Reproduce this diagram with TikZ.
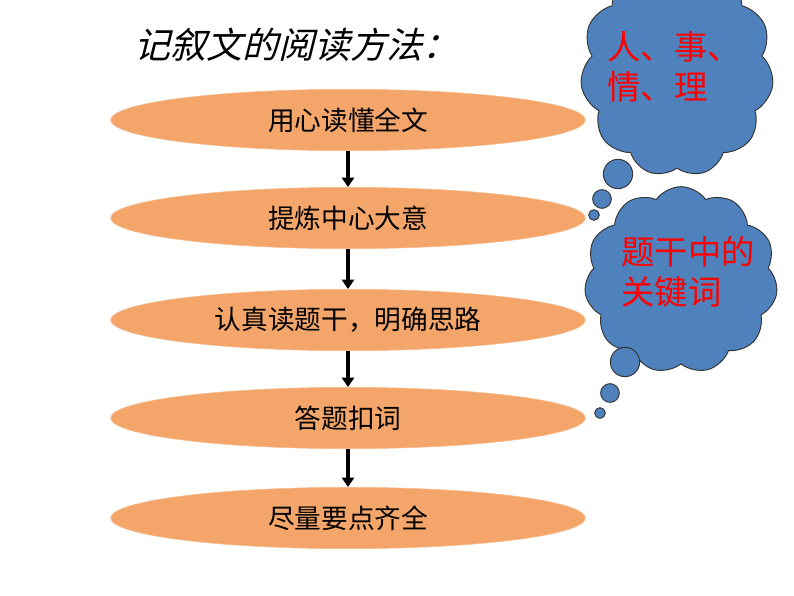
\documentclass[tikz,border=0pt]{standalone}
\usepackage{fontspec}
\newfontfamily\cjk{Noto Sans CJK SC}
\newfontfamily\cjkit[FakeSlant=0.25]{Noto Sans CJK SC}
\usetikzlibrary{shapes.geometric,shapes.symbols,arrows.meta}
\definecolor{orng}{HTML}{F4A66A}
\definecolor{cblue}{HTML}{4F81BD}
\tikzset{
  stepbox/.style={ellipse,fill=orng,draw=orng!80!white,minimum width=356pt,minimum height=46pt,font=\cjk\fontsize{20}{24}\selectfont,inner sep=0pt},
  flow/.style={-{Triangle[length=7pt,width=9pt]},line width=2.5pt,black},
  thought/.style={cloud,cloud puffs=11,cloud puff arc=110,aspect=1,fill=cblue,draw=black!80,line width=0.7pt},
  bub/.style={circle,fill=cblue,draw=black!80,line width=0.7pt,inner sep=0pt},
  ctext/.style={font=\cjk\fontsize{25}{30}\selectfont,text=red,align=left}
}
\begin{document}
\begin{tikzpicture}[x=0.75pt,y=-0.75pt]
\useasboundingbox (0,0) rectangle (794,596);
\clip (0,0) rectangle (794,596);
\node[font=\cjkit\fontsize{27}{32}\selectfont,anchor=west] (title) at (130,45) {记叙文的阅读方法：};
\node[stepbox] (s1) at (348,120) {用心读懂全文};
\node[stepbox] (s2) at (348,218) {提炼中心大意};
\node[stepbox] (s3) at (348,320) {认真读题干，明确思路};
\node[stepbox] (s4) at (348,418) {答题扣词};
\node[stepbox] (s5) at (348,518) {尽量要点齐全};
\draw[flow] (s1) -- (s2);
\draw[flow] (s2) -- (s3);
\draw[flow] (s3) -- (s4);
\draw[flow] (s4) -- (s5);
\node[thought,minimum width=145pt,minimum height=160pt] (c1) at (677,70) {};
\node[ctext] (t1) at (674,67) {人、事、\\情、理};
\node[bub,minimum size=22pt] (b1) at (618,174) {};
\node[bub,minimum size=14pt] (b2) at (602,199) {};
\node[bub,minimum size=8pt] (b3) at (594,215) {};
\node[thought,minimum width=145pt,minimum height=140pt] (c2) at (681,280) {};
\node[ctext] (t2) at (688,272) {题干中的\\关键词};
\node[bub,minimum size=22pt] (b4) at (625,362) {};
\node[bub,minimum size=14pt] (b5) at (610,393) {};
\node[bub,minimum size=8pt] (b6) at (600,413) {};
\end{tikzpicture}
\end{document}
